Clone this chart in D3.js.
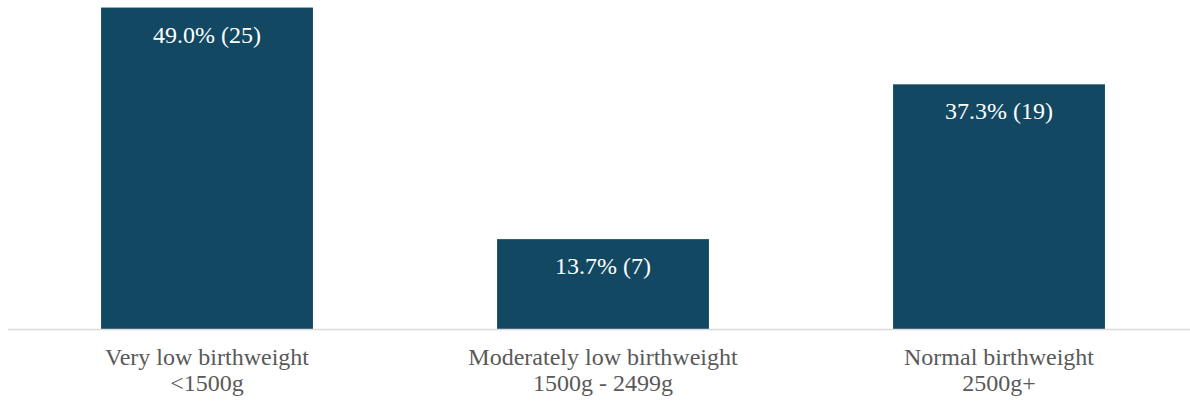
<!DOCTYPE html>
<html>
<head>
<meta charset="utf-8">
<script src="https://cdn.jsdelivr.net/npm/d3@7"></script>
<style>
  body { margin: 0; background: #fff; }
  svg { display: block; font-family: 'Liberation Serif', 'Times New Roman', serif; }
</style>
</head>
<body>
<div id="chart"></div>
<script>
// data
var categories = ['Very low birthweight', 'Moderately low birthweight', 'Normal birthweight'];
var ranges = ['<1500g', '1500g - 2499g', '2500g+'];
var percents = [49.0, 13.7, 37.3];
var counts = [25, 7, 19];

var svgWidth = 1190;
var svgHeight = 402;

var svg = d3.select('#chart')
  .append('svg')
  .attr('width', svgWidth)
  .attr('height', svgHeight);

// scales
var xScale = d3.scaleBand()
  .domain(categories)
  .range([9, 1197])
  .paddingInner(0.465)
  .paddingOuter(0.2325);

var yScale = d3.scaleLinear()
  .domain([0, 50])
  .range([329, 1]);

// bars
svg.selectAll('rect.bar')
  .data(categories)
  .enter()
  .append('rect')
  .attr('class', 'bar')
  .attr('x', d => xScale(d))
  .attr('width', xScale.bandwidth())
  .attr('y', (d, i) => yScale(percents[i]))
  .attr('height', (d, i) => yScale(0) - yScale(percents[i]))
  .attr('fill', '#124862');

// baseline
svg.append('line')
  .attr('x1', 8)
  .attr('x2', svgWidth)
  .attr('y1', yScale(0) + 0.5)
  .attr('y2', yScale(0) + 0.5)
  .attr('stroke', '#d9d9d9')
  .attr('stroke-width', 1.5);

// value labels
svg.selectAll('text.value')
  .data(categories)
  .enter()
  .append('text')
  .attr('class', 'value')
  .attr('x', d => xScale(d) + xScale.bandwidth() / 2)
  .attr('y', (d, i) => yScale(percents[i]) + 35)
  .attr('text-anchor', 'middle')
  .attr('font-size', '24px')
  .attr('fill', '#ffffff')
  .text((d, i) => percents[i].toFixed(1) + '% (' + counts[i] + ')');

// category labels
var catLabels = svg.selectAll('text.cat')
  .data(categories)
  .enter()
  .append('text')
  .attr('class', 'cat')
  .attr('text-anchor', 'middle')
  .attr('font-size', '24px')
  .attr('fill', '#595959');

catLabels.append('tspan')
  .attr('x', d => xScale(d) + xScale.bandwidth() / 2)
  .attr('y', 365)
  .text(d => d);

catLabels.append('tspan')
  .attr('x', d => xScale(d) + xScale.bandwidth() / 2)
  .attr('y', 391)
  .text((d, i) => ranges[i]);
</script>
</body>
</html>
